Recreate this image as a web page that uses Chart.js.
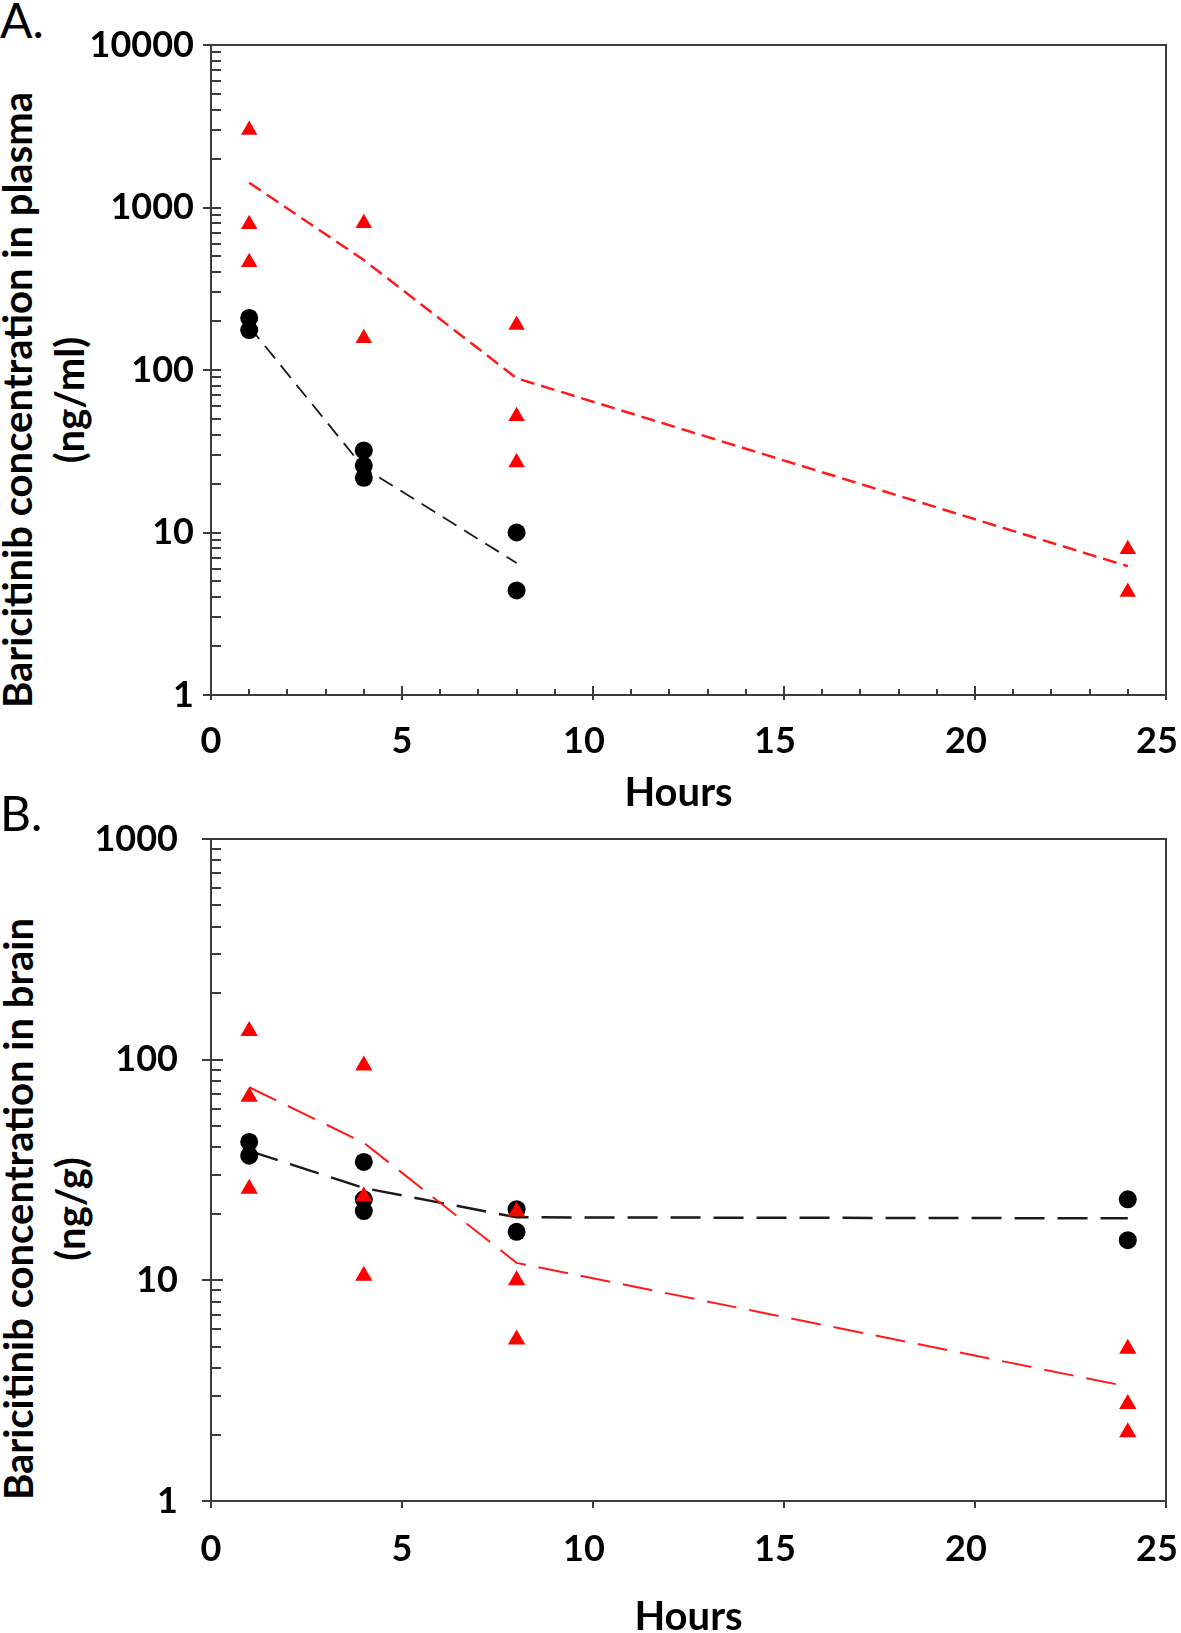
<!DOCTYPE html>
<html>
<head>
<meta charset="utf-8">
<script src="https://cdn.jsdelivr.net/npm/chart.js@4.4.1/dist/chart.umd.min.js"></script>
<style>
  body { margin: 0; background: #fff; }
  #page { position: relative; width: 1181px; height: 1633px; overflow: hidden; font-family: Lato, sans-serif; }
  canvas { position: absolute; left: 0; }
  .panel { position: absolute; left: 0; font-size: 48px; line-height: 1; font-weight: 400; color: #000; }
  .ytitle {
    position: absolute; transform: translate(-50%, -50%) rotate(-90deg);
    white-space: nowrap; text-align: center; font-weight: 700; font-size: 40px; line-height: 52px; color: #000;
  }
</style>
</head>
<body>
<div id="page">
  <div class="panel" style="top:-4px">A.</div>
  <div class="ytitle" style="left:43px; top:400px">Baricitinib concentration in plasma<br>(ng/ml)</div>
  <canvas id="plasma" width="1181" height="830" style="top:0"></canvas>

  <div class="panel" style="top:789px">B.</div>
  <div class="ytitle" style="left:44px; top:1209px">Baricitinib concentration in brain<br>(ng/g)</div>
  <canvas id="brain" width="1181" height="843" style="top:790px"></canvas>
</div>

<script>
    // 时间点 (hours)
    const xTicks = [0, 5, 10, 15, 20, 25];

    // A. 血浆 - 红色三角 (单个样本)
    const plasmaRedX = [1, 1, 1, 4, 4, 8, 8, 8, 24, 24];
    const plasmaRedY = [3000, 790, 460, 800, 157, 189, 52, 27, 7.9, 4.3];
    // A. 血浆 - 黑色圆点
    const plasmaBlackX = [1, 1, 4, 4, 4, 8, 8];
    const plasmaBlackY = [209, 176, 32, 25.8, 21.7, 10, 4.4];
    // A. 平均值折线
    const plasmaRedMeanX = [1, 4, 8, 24];
    const plasmaRedMeanY = [1420, 475, 89, 6.2];
    const plasmaBlackMeanX = [1, 4, 8];
    const plasmaBlackMeanY = [185, 25, 6.5];
    const plasmaYTicks = [1, 10, 100, 1000, 10000];

    // B. 脑组织 - 红色三角
    const brainRedX = [1, 1, 1, 4, 4, 4, 8, 8, 8, 24, 24, 24];
    const brainRedY = [135, 68, 26, 94, 24, 10.5, 20.5, 10, 5.4, 4.9, 2.75, 2.05];
    // B. 脑组织 - 黑色圆点
    const brainBlackX = [1, 1, 4, 4, 4, 8, 8, 24, 24];
    const brainBlackY = [42.4, 36.7, 34.4, 23.3, 20.6, 21, 16.6, 23.3, 15.2];
    // B. 平均值折线
    const brainRedMeanX = [1, 4, 8, 24];
    const brainRedMeanY = [75, 42, 12, 3.3];
    const brainBlackMeanX = [1, 4, 8, 24];
    const brainBlackMeanY = [38.6, 26.2, 19.3, 19.1];
    const brainYTicks = [1, 10, 100, 1000];

    Chart.defaults.font.family = "Lato, 'Open Sans', sans-serif";
    Chart.defaults.color = '#000';

    const pts = (xs, ys) => xs.map((x, i) => ({ x: x, y: ys[i] }));
    const isDecade = v => Math.abs(Math.log10(v) - Math.round(Math.log10(v))) < 1e-9;
    // 原图两位数的标签略微偏左, 用半角空格模拟
    const xLabel = v => v >= 10 ? v + '\u2002' : String(v);

    // 画外框和刻度线
    const frameTicks = {
        id: 'frameTicks',
        afterDraw(chart, args, o) {
            const { ctx, chartArea: a, scales: { x, y } } = chart;
            ctx.save();
            ctx.strokeStyle = '#3c3c3c';
            ctx.lineWidth = 2;
            ctx.strokeRect(a.left, a.top, a.right - a.left, a.bottom - a.top);
            ctx.beginPath();
            for (let d = y.min; d <= y.max; d *= 10) {
                const py = Math.round(y.getPixelForValue(d));
                ctx.moveTo(a.left - o.yOut, py);
                ctx.lineTo(a.left + o.yMajorIn, py);
                if (d === y.max) break;
                for (let k = 2; k <= 9; k++) {
                    const my = Math.round(y.getPixelForValue(k * d));
                    ctx.moveTo(a.left, my);
                    ctx.lineTo(a.left + o.yMinorIn, my);
                }
            }
            x.ticks.forEach(t => {
                const px = Math.round(x.getPixelForValue(t.value));
                ctx.moveTo(px, a.bottom + o.xDown);
                ctx.lineTo(px, a.bottom - o.xUp);
            });
            if (o.xMinorStep) {
                for (let v = x.min + o.xMinorStep; v < x.max; v += o.xMinorStep) {
                    if (v % 5 === 0) continue;
                    const px = Math.round(x.getPixelForValue(v));
                    ctx.moveTo(px, a.bottom);
                    ctx.lineTo(px, a.bottom - o.xMinorUp);
                }
            }
            ctx.stroke();
            ctx.restore();
        }
    };

    function makeChart(id, cfg) {
        return new Chart(document.getElementById(id), {
            type: 'scatter',
            data: {
                datasets: [
                    {
                        data: pts(cfg.redX, cfg.redY),
                        pointStyle: 'triangle', pointRadius: cfg.triR,
                        backgroundColor: '#ff0000', pointBorderWidth: 0, showLine: false
                    },
                    {
                        data: pts(cfg.blackX, cfg.blackY),
                        pointStyle: 'circle', pointRadius: 9,
                        backgroundColor: '#000000', pointBorderWidth: 0, showLine: false
                    },
                    {
                        data: pts(cfg.redMeanX, cfg.redMeanY),
                        showLine: true, pointRadius: 0, borderColor: '#ff1a1a',
                        borderWidth: cfg.redW, borderDash: cfg.redDash, tension: 0
                    },
                    {
                        data: pts(cfg.blackMeanX, cfg.blackMeanY),
                        showLine: true, pointRadius: 0, borderColor: '#1a1a1a',
                        borderWidth: cfg.blackW, borderDash: cfg.blackDash, tension: 0
                    }
                ]
            },
            options: {
                responsive: false,
                animation: false,
                layout: { padding: { top: cfg.padTop, right: 15, left: 0, bottom: 0 } },
                plugins: {
                    legend: { display: false },
                    tooltip: { enabled: false },
                    frameTicks: cfg.marks
                },
                scales: {
                    x: {
                        type: 'linear', min: 0, max: 25,
                        afterFit: s => { s.height = cfg.xHeight; s.paddingLeft = 0; s.paddingRight = 0; },
                        afterBuildTicks: s => { s.ticks = xTicks.map(v => ({ value: v })); },
                        grid: { display: false, drawTicks: false },
                        border: { display: false },
                        ticks: {
                            padding: cfg.xPad, autoSkip: false, maxRotation: 0,
                            font: { size: 36, weight: 'bold' },
                            callback: xLabel
                        },
                        title: {
                            display: true, text: cfg.xTitle,
                            font: { size: 40, weight: 'bold', lineHeight: 1 },
                            padding: { top: 0, bottom: cfg.titleBottom }
                        }
                    },
                    y: {
                        type: 'logarithmic', min: cfg.yTicks[0], max: cfg.yTicks[cfg.yTicks.length - 1],
                        afterFit: s => { s.width = 211; s.paddingTop = 0; s.paddingBottom = 0; },
                        afterBuildTicks: s => { s.ticks = cfg.yTicks.map(v => ({ value: v })); },
                        grid: { display: false, drawTicks: false },
                        border: { display: false },
                        ticks: {
                            padding: cfg.yPad, autoSkip: false,
                            font: { size: 36, weight: 'bold' },
                            callback: v => isDecade(v) ? String(v) : ''
                        }
                    }
                }
            },
            plugins: [frameTicks]
        });
    }

    // A. 血浆
    makeChart('plasma', {
        redX: plasmaRedX, redY: plasmaRedY, blackX: plasmaBlackX, blackY: plasmaBlackY,
        redMeanX: plasmaRedMeanX, redMeanY: plasmaRedMeanY,
        blackMeanX: plasmaBlackMeanX, blackMeanY: plasmaBlackMeanY,
        yTicks: plasmaYTicks, xTitle: 'Hours\u2002',
        triR: 9.5, redW: 2.5, redDash: [14, 7], blackW: 1.8, blackDash: [16, 9],
        padTop: 45, xHeight: 135, xPad: 25, yPad: 17, titleBottom: 17,
        marks: { yOut: 8, yMajorIn: 10, yMinorIn: 10, xUp: 9, xDown: 5, xMinorUp: 6, xMinorStep: 1 }
    });

    // B. 脑组织
    makeChart('brain', {
        redX: brainRedX, redY: brainRedY, blackX: brainBlackX, blackY: brainBlackY,
        redMeanX: brainRedMeanX, redMeanY: brainRedMeanY,
        blackMeanX: brainBlackMeanX, blackMeanY: brainBlackMeanY,
        yTicks: brainYTicks, xTitle: 'Hours',
        triR: 10, redW: 2, redDash: [30, 13], blackW: 2.5, blackDash: [30, 13],
        padTop: 49, xHeight: 132, xPad: 27, yPad: 33, titleBottom: -4,
        marks: { yOut: 9, yMajorIn: 12, yMinorIn: 10, xUp: 0, xDown: 7, xMinorUp: 0, xMinorStep: 0 }
    });
</script>
</body>
</html>
